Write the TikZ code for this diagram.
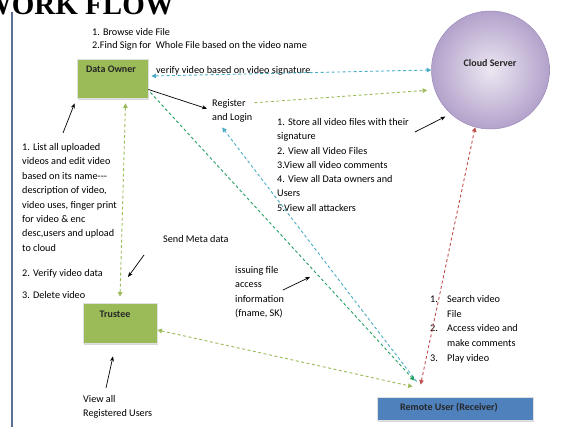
\documentclass[tikz,border=0pt]{standalone}
\usepackage{fontspec}
\setmainfont{Carlito}
\newfontfamily\titlefont{Liberation Serif}
\usetikzlibrary{arrows.meta,shadows}
\definecolor{boxgreen}{HTML}{9BBB59}
\definecolor{boxblue}{HTML}{4F81BD}
\definecolor{linecyan}{HTML}{4BACC6}
\definecolor{linegreen}{HTML}{25A063}
\definecolor{lineolive}{HTML}{9BBB59}
\definecolor{linered}{HTML}{C0504D}
\definecolor{cloudin}{HTML}{ECE7F2}
\definecolor{cloudout}{HTML}{B3A2CB}
\definecolor{cloudline}{HTML}{9A8AB8}
\definecolor{rulecol}{HTML}{5A6E96}

\begin{document}
\begin{tikzpicture}[x=1pt,y=-1pt,
  box/.style={draw=black!12, line width=0.8pt,
    drop shadow={shadow xshift=1pt,shadow yshift=-2pt,fill=black!30}},
  lbl/.style={font=\fontsize{10}{12}\selectfont\bfseries, text=black!85},
  txt/.style={anchor=base west, inner sep=0pt, align=left,
    font=\fontsize{10.2}{14.3}\selectfont},
  flow/.style={dash pattern=on 3pt off 2.5pt, line width=0.9pt},
  tip/.style={-{Triangle[length=4.5pt,width=4.5pt]}},
  tips/.style={{Triangle[length=4.5pt,width=4.5pt]}-{Triangle[length=4.5pt,width=4.5pt]}},
  blk/.style={-{Stealth[length=5pt,width=4pt]}, line width=0.7pt}]
  \useasboundingbox (0,0) rectangle (573,427);

  \node[anchor=base east, inner sep=0pt,
    font=\titlefont\bfseries\fontsize{29}{32}\selectfont] (title) at (174,15) {WORK FLOW};
  \draw[rulecol, line width=1.8pt] (12,12) -- (12,427);

  \node[box, fill=boxgreen, minimum width=71pt, minimum height=39pt] (owner) at (112.5,78.5) {};
  \node[lbl] (ownerlbl) at (111,69) {Data Owner};
  \node[box, fill=boxgreen, minimum width=74pt, minimum height=40pt] (trustee) at (120,323) {};
  \node[lbl] (trusteelbl) at (115,314) {Trustee};
  \node[box, fill=boxblue, minimum width=156pt, minimum height=23pt] (remote) at (455,408.5) {};
  \node[lbl] (remotelbl) at (449,408) {Remote User (Receiver)};
  \node[circle, minimum size=118pt, inner color=cloudin, outer color=cloudout,
    draw=cloudline, line width=0.5pt] (cloud) at (490.5,70) {};
  \node[lbl] (cloudlbl) at (490,63) {Cloud Server};

  % multi-line texts sit on the baseline of their last line
  \node[txt, font=\fontsize{10.2}{13}\selectfont] (browse) at (92,48.5)
    {1. Browse vide File\\2.Find Sign for\ \ Whole File based on the video name};
  \node[txt] (verify) at (156,73.5) {verify video based on video signature};
  \node[txt] (register) at (212,120.5) {Register\\and Login};
  \node[txt] (store) at (277,211.3) {1. Store all video files with their\\signature\\
    2. View all Video Files\\3.View all video comments\\4. View all Data owners and\\
    Users\\5.View all attackers};
  \node[txt, font=\fontsize{10.2}{14.4}\selectfont] (listing) at (22,251.3)
    {1. List all uploaded\\videos and edit video\\based on its name-{}-{}-\\
    description of video,\\video uses, finger print\\for video \& enc\\
    desc,users and upload\\to cloud};
  \node[txt] (verifydata) at (22,276.5) {2. Verify video data};
  \node[txt] (deletevid) at (22,298.5) {3. Delete video};
  \node[txt] (metadata) at (163,242.5) {Send Meta data};
  \node[txt] (issuing) at (235,316.4) {issuing file\\access\\information\\(fname, SK)};
  \node[txt, font=\fontsize{10.2}{14}\selectfont] (viewall) at (83,416.5)
    {View all\\Registered Users};
  \node[txt, font=\fontsize{10.2}{14.7}\selectfont] (search) at (430,361.3)
    {\makebox[17pt][l]{1.}Search video\\\hspace*{17pt}File\\
    \makebox[17pt][l]{2.}Access video and\\\hspace*{17pt}make comments\\
    \makebox[17pt][l]{3.}Play video};

  \coordinate (listend) at (63,133);
  \coordinate (storeend) at (415,132);
  \coordinate (metafrom) at (144,255);
  \coordinate (metato) at (128,277);
  \coordinate (issuefrom) at (283,290);
  \coordinate (issueto) at (310,277);
  \coordinate (viewend) at (106,388);

  \draw[flow, linecyan, tips] ([xshift=3pt,yshift=2.5pt]owner.east) -- (cloud.west);
  \draw[blk] ([yshift=-11pt]owner.east) -- ([xshift=-5pt,yshift=2pt]register.west);
  \draw[flow, lineolive, tip] ([xshift=2pt,yshift=8pt]register.east) -- ([xshift=-7pt,yshift=-2pt]cloud.198);
  \draw[blk] (storeend) -- ([xshift=-4pt,yshift=-4pt]cloud.226);
  \draw[flow, linecyan, tip] ([xshift=40pt,yshift=15pt]remote.north west) -- ([xshift=-10pt,yshift=-5pt]register.south);
  \draw[flow, linegreen, tip] ([xshift=2pt,yshift=6pt]owner.south east) -- ([xshift=38pt,yshift=16pt]remote.north west);
  \draw[flow, linered, tips] ([xshift=44pt,yshift=12pt]remote.north west) -- (cloud.255);
  \draw[flow, lineolive, tips] ([yshift=-7pt]trustee.east) -- ([xshift=36pt,yshift=10pt]remote.north west);
  \draw[flow, lineolive, tips] ([xshift=13pt,yshift=-5pt]owner.south) -- ([yshift=6pt]trustee.north);
  \draw[blk] (listend) -- ([xshift=-2pt,yshift=-5pt]owner.south west);
  \draw[blk] (metafrom) -- (metato);
  \draw[blk] (issuefrom) -- (issueto);
  \draw[blk] (viewend) -- ([xshift=-7pt,yshift=-13pt]trustee.south);
\end{tikzpicture}
\end{document}
